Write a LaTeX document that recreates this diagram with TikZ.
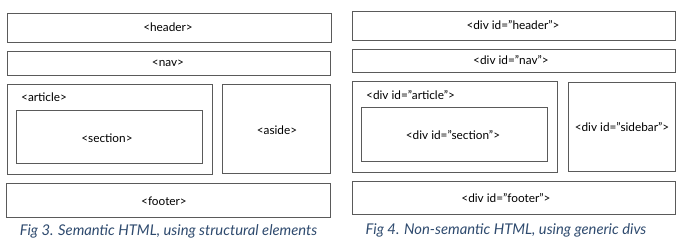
\documentclass[tikz,border=0pt]{standalone}
\usepackage{fontspec}
\setmainfont{Lato}
\definecolor{capblue}{HTML}{2E4A6E}
\definecolor{boxgray}{HTML}{5A5A5A}
\begin{document}
\begin{tikzpicture}[x=1pt,y=-1pt,
  blk/.style={draw=boxgray,line width=0.9pt},
  lbl/.style={font=\fontsize{11.8}{14}\selectfont,text=black,inner sep=0pt},
  captxt/.style={font=\fontsize{14.8}{17}\selectfont\itshape,text=capblue,inner sep=0pt}]
\useasboundingbox (0,0) rectangle (681,247);
% left panel
\draw[blk] (7,13) rectangle (331,42);
\node[lbl] (h1) at (168,27.5) {<header>};
\draw[blk] (7,51) rectangle (330,75);
\node[lbl] (n1) at (168,63) {<nav>};
\draw[blk] (7,84) rectangle (212,174);
\node[lbl,anchor=west] (a1) at (21,97) {<article>};
\draw[blk] (16,110) rectangle (202,163);
\node[lbl] (s1) at (107,138) {<section>};
\draw[blk] (222,84) rectangle (330,173);
\node[lbl] (as1) at (277,130) {<aside>};
\draw[blk] (6,183) rectangle (330,217);
\node[lbl] (f1) at (164,201) {<footer>};
\node[captxt] (c1) at (168.5,231) {Fig 3. Semantic HTML, using structural elements};
% right panel
\draw[blk] (352,11) rectangle (675,40);
\node[lbl] (h2) at (513,25.5) {<div id=”header”>};
\draw[blk] (352,49) rectangle (675,72);
\node[lbl] (n2) at (511,60.5) {<div id=”nav”>};
\draw[blk] (352,81) rectangle (557,172);
\node[lbl,anchor=west] (a2) at (366,95) {<div id=”article”>};
\draw[blk] (361,107) rectangle (547,161);
\node[lbl] (s2) at (453,135) {<div id=”section”>};
\draw[blk] (568,82) rectangle (675,171);
\node[lbl] (sb2) at (622,127) {<div id=”sidebar”>};
\draw[blk] (352,181) rectangle (675,214);
\node[lbl] (f2) at (506,198) {<div id=”footer”>};
\node[captxt] (c2) at (506,230) {Fig 4. Non-semantic HTML, using generic divs};
\end{tikzpicture}
\end{document}
